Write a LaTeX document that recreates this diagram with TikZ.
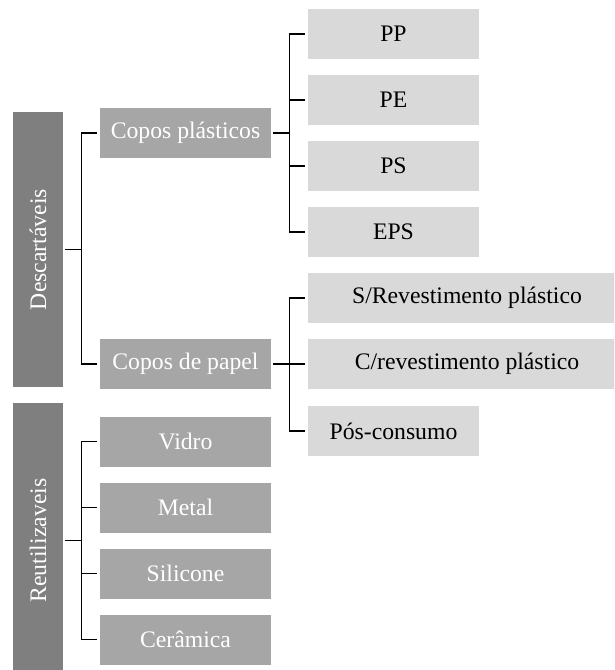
\documentclass[tikz,border=0pt]{standalone}
\usepackage{fontspec}
\setmainfont{Liberation Serif}
\begin{document}
\begin{tikzpicture}[x=1pt,y=-1pt,
  base/.style={rectangle,inner sep=0pt,anchor=center,font=\fontsize{23.7}{28}\selectfont},
  group/.style={base,fill=gray7f,text=white,minimum width=50pt,minimum height=275pt},
  mid/.style={base,fill=graya6,text=white,minimum width=171pt,minimum height=50pt},
  leaf/.style={base,fill=grayd9,text=black,minimum width=171pt,minimum height=50pt},
  wideleaf/.style={leaf,minimum width=318pt},
  link/.style={draw=black,line width=1.3pt}]
\definecolor{gray7f}{HTML}{7F7F7F}
\definecolor{graya6}{HTML}{A6A6A6}
\definecolor{grayd9}{HTML}{D9D9D9}
\useasboundingbox (0,0) rectangle (614,670);
\clip (0,0) rectangle (614,670);

% category columns
\node[group] (desc) at (38,249.5) {\rotatebox{90}{Descartáveis}};
\node[group] (reut) at (38,540.5) {\rotatebox{90}{Reutilizaveis}};

% second level
\node[mid] (plast) at (185.5,133) {Copos plásticos};
\node[mid] (papel) at (185.5,364) {Copos de papel};
\node[mid] (vidro) at (185.5,441.5) {Vidro};
\node[mid] (metal) at (185.5,507.5) {Metal};
\node[mid] (silic) at (185.5,573.5) {Silicone};
\node[mid] (ceram) at (185.5,639.5) {Cerâmica};

% plastic types
\node[leaf] (pp) at (393.5,34) {PP};
\node[leaf] (pe) at (393.5,100) {PE};
\node[leaf] (ps) at (393.5,166) {PS};
\node[leaf] (eps) at (393.5,232) {EPS};

% paper cup types
\node[wideleaf] (srev) at (467,298) {S/Revestimento plástico};
\node[wideleaf] (crev) at (467,364) {C/revestimento plástico};
\node[leaf] (pos) at (393.5,431) {Pós-consumo};

% bracket connectors
\foreach \c in {plast,papel}
  \draw[link] ([xshift=2pt]desc.east) -- ++(16,0) |- ([xshift=-3pt]\c.west);
\foreach \c in {vidro,metal,silic,ceram}
  \draw[link] ([xshift=2pt]reut.east) -- ++(16,0) |- ([xshift=-3pt]\c.west);
\foreach \c in {pp,pe,ps,eps}
  \draw[link] ([xshift=2pt]plast.east) -- ++(16,0) |- ([xshift=-3pt]\c.west);
\foreach \c in {srev,crev,pos}
  \draw[link] ([xshift=2pt]papel.east) -- ++(16,0) |- ([xshift=-3pt]\c.west);
\end{tikzpicture}
\end{document}
